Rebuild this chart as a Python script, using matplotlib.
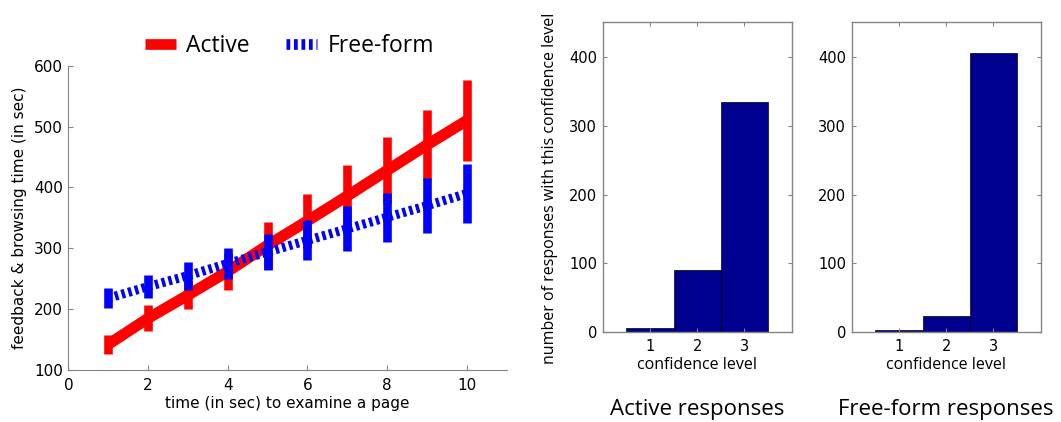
import matplotlib
matplotlib.use("Agg")
import matplotlib.pyplot as plt
from matplotlib.lines import Line2D
import numpy as np

# time spent, from the left panel
page_time = [1, 2, 3, 4, 5, 6, 7, 8, 9, 10]
active_mean = [142, 185, 223, 262, 305, 345, 386, 428, 470, 510]
active_err = [15, 21, 23, 31, 39, 45, 51, 55, 58, 66]
free_mean = [218, 237, 255, 275, 294, 313, 332, 351, 370, 390]
free_err = [16, 19, 23, 25, 30, 33, 37, 40, 45, 48]

# confidence histograms
conf_levels = [1, 2, 3]
active_counts = [6, 90, 335]
free_counts = [3, 24, 405]

TICKFONT = "DejaVu Sans"
TEXTFONT = "Open Sans"
GREY = "#858585"
NAVY = "#00008F"


def style_hist(ax):
    for s in ax.spines.values():
        s.set_color(GREY)
        s.set_linewidth(1.0)
    ax.tick_params(direction="in", top=True, right=True, length=3,
                   color=GREY, labelsize=10.5, pad=4)
    ax.tick_params(axis="x", pad=5)
    for lab in ax.get_xticklabels() + ax.get_yticklabels():
        lab.set_family(TICKFONT)


def histplot(ax, counts, title):
    ax.bar(conf_levels, counts, width=1.0, color=NAVY, edgecolor="black", linewidth=0.5)
    ax.set_xlim(0, 4)
    ax.set_ylim(0, 450)
    ax.set_xticks(conf_levels)
    ax.set_yticks([0, 100, 200, 300, 400])
    style_hist(ax)
    ax.set_xlabel("confidence level", family=TEXTFONT, fontsize=11.5, labelpad=2)
    pos = ax.get_position()
    ax.figure.text(pos.x0 + pos.width / 2, 7 / 422, title, family=TEXTFONT,
                   fontsize=16, ha="center", va="baseline")


fig = plt.figure(figsize=(10.61, 4.22), dpi=100)

ax = fig.add_axes([0.0644, 0.1232, 0.4132, 0.7211])
ax.errorbar(page_time, active_mean, yerr=active_err, fmt="none", ecolor="red",
            elinewidth=6.2, capsize=0)
ax.plot(page_time, active_mean, color="red", lw=8, solid_capstyle="butt")
ax.errorbar(page_time, free_mean, yerr=free_err, fmt="none", ecolor="blue",
            elinewidth=6.2, capsize=0)
ax.plot(page_time, free_mean, color="blue", lw=6.6, dashes=(0.38, 0.38),
        dash_capstyle="butt")
ax.set_xlim(0, 11)
ax.set_ylim(100, 600)
ax.set_xticks([0, 2, 4, 6, 8, 10])
ax.set_yticks([100, 200, 300, 400, 500, 600])
ax.spines["top"].set_visible(False)
ax.spines["right"].set_visible(False)
for s in ("left", "bottom"):
    ax.spines[s].set_color(GREY)
ax.tick_params(direction="in", length=3.5, color=GREY, labelsize=11, pad=4)
ax.tick_params(axis="x", pad=6)
for lab in ax.get_xticklabels() + ax.get_yticklabels():
    lab.set_family(TICKFONT)
ax.set_xlabel("time (in sec) to examine a page", family=TICKFONT, fontsize=11, labelpad=2)
ax.set_ylabel("feedback & browsing time (in sec)", family=TICKFONT, fontsize=11, labelpad=5)

handles = [Line2D([], [], color="red", lw=7.7, solid_capstyle="butt"),
           Line2D([], [], color="blue", lw=7.7, dashes=(0.35, 0.35), dash_capstyle="butt")]
fig.legend(handles, ["Active", "Free-form"], loc="center", ncol=2, frameon=False,
           bbox_to_anchor=(289.5 / 1061, 1 - 46 / 422), prop={"family": TEXTFONT, "size": 16.5},
           handlelength=1.35, handletextpad=0.45, columnspacing=1.6)

ax1 = fig.add_axes([0.568, 0.2126, 0.1781, 0.7346])
histplot(ax1, active_counts, "Active responses")
ax2 = fig.add_axes([0.8027, 0.2126, 0.1781, 0.7346])
histplot(ax2, free_counts, "Free-form responses")

fig.text(550 / 1061, 1 - 188.5 / 422, "number of responses with this confidence level",
         family=TEXTFONT, fontsize=11.5, rotation=90, ha="center", va="center")

fig.savefig("out.png", dpi=100)
